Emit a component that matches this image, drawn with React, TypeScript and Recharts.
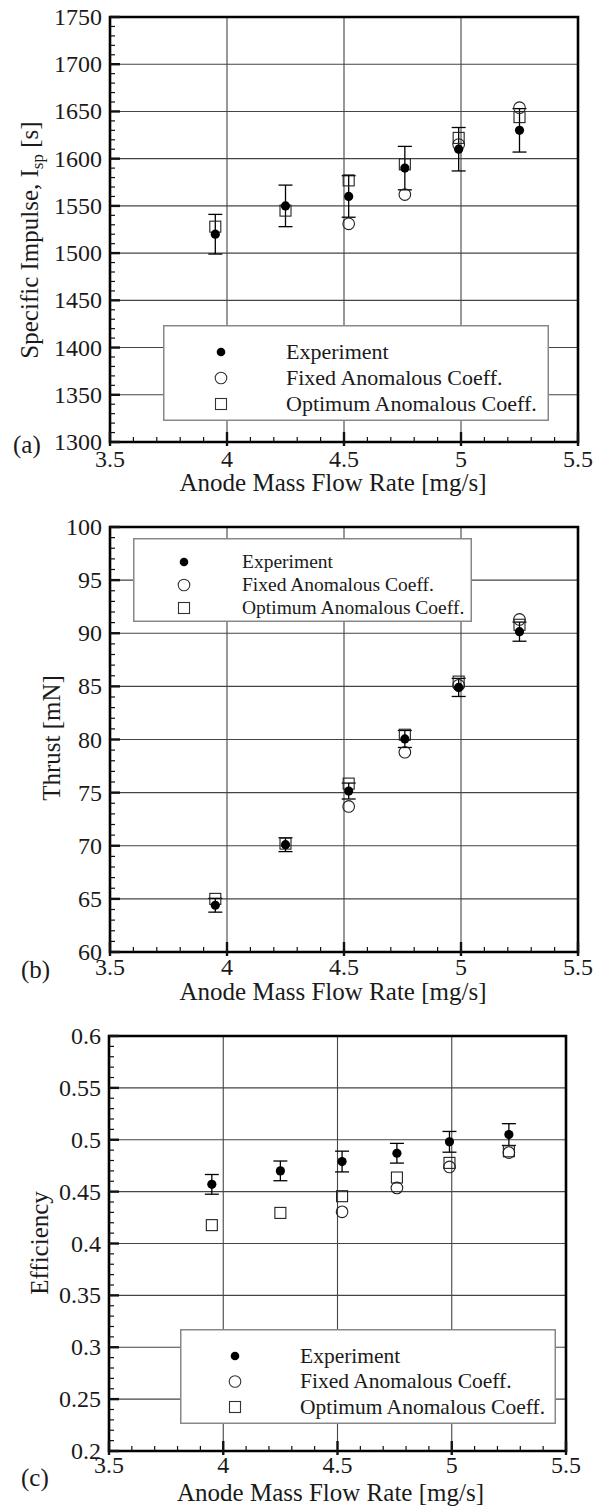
import React from 'react';
import {
  ScatterChart,
  Scatter,
  XAxis,
  YAxis,
  CartesianGrid,
  ErrorBar,
  ReferenceArea,
  Legend,
} from 'recharts';

// ---------------- data ----------------
const xFlow = [3.95, 4.25, 4.52, 4.76, 4.99, 5.25];
const xFlowFixed = [4.52, 4.76, 4.99, 5.25];
const xMajorTicks = [3.5, 4, 4.5, 5, 5.5];
const xGridValues = [4, 4.5, 5];

const ispExperiment = [1520, 1550, 1560, 1590, 1610, 1630];
const ispExperimentErr = [21, 22, 22, 23, 23, 23];
const ispFixed = [1531, 1562, 1615, 1654];
const ispOptimum = [1528, 1545, 1577, 1594, 1622, 1644];
const ispMajorTicks = [1300, 1350, 1400, 1450, 1500, 1550, 1600, 1650, 1700, 1750];

const thrustExperiment = [64.4, 70.1, 75.15, 80.05, 84.9, 90.15];
const thrustExperimentErr = [0.65, 0.65, 0.75, 0.8, 0.85, 0.9];
const thrustFixed = [73.7, 78.8, 85.1, 91.3];
const thrustOptimum = [65.0, 70.2, 75.85, 80.45, 85.45, 90.8];
const thrustMajorTicks = [60, 65, 70, 75, 80, 85, 90, 95, 100];

const effExperiment = [0.457, 0.47, 0.479, 0.487, 0.498, 0.505];
const effExperimentErr = [0.0095, 0.0095, 0.01, 0.0095, 0.01, 0.0105];
const effFixed = [0.4305, 0.4536, 0.4738, 0.4876];
const effOptimum = [0.4177, 0.4295, 0.4456, 0.4636, 0.4777, 0.4889];
const effMajorTicks = [0.2, 0.25, 0.3, 0.35, 0.4, 0.45, 0.5, 0.55, 0.6];

const legendNames = ['Experiment', 'Fixed Anomalous Coeff.', 'Optimum Anomalous Coeff.'];
const xAxisTitle = 'Anode Mass Flow Rate [mg/s]';

// ---------------- helpers ----------------
const FONT = "'Liberation Serif', 'Times New Roman', serif";
const TEXT = '#1a1a1a';

function stepTicks(lo: number, hi: number, step: number): number[] {
  const out: number[] = [];
  const n = Math.round((hi - lo) / step);
  for (let i = 0; i <= n; i++) out.push(+(lo + i * step).toFixed(6));
  return out;
}
const near = (a: number, b: number) => Math.abs(a - b) < 1e-7;

const toPoints = (xs: number[], ys: number[], errs?: number[]) =>
  xs.map((x, i) => ({ x, y: ys[i], err: errs ? errs[i] : 0 }));

const FilledDot = (p: any) => <circle cx={p.cx} cy={p.cy} r={4.6} fill="#000" />;
const OpenCircle = (p: any) => (
  <circle cx={p.cx} cy={p.cy} r={5.8} fill="none" stroke="#222" strokeWidth={1.1} />
);
const OpenSquare = (p: any) => (
  <rect x={p.cx - 5.5} y={p.cy - 5.5} width={11} height={11} fill="none" stroke="#222" strokeWidth={1.1} />
);

const makeXTick = (dy: number) => (props: any) => {
  const { x, y, payload } = props;
  const v = payload.value;
  const major = xMajorTicks.some((m) => near(m, v));
  if (!major) return <line x1={x} y1={y} x2={x} y2={y - 5} stroke="#111" strokeWidth={1.2} />;
  return (
    <g>
      <line x1={x} y1={y + 4} x2={x} y2={y - 10} stroke="#111" strokeWidth={2.4} />
      <text x={x} y={y + dy} textAnchor="middle" fontFamily={FONT} fontSize={24} fill={TEXT}>
        {String(v)}
      </text>
    </g>
  );
};

const makeYTick = (majors: number[]) => (props: any) => {
  const { x, y, payload } = props;
  const v = payload.value;
  const major = majors.some((m) => near(m, v));
  if (!major) return <line x1={x} y1={y} x2={x + 5} y2={y} stroke="#111" strokeWidth={1.2} />;
  return (
    <g>
      <line x1={x} y1={y} x2={x + 10} y2={y} stroke="#111" strokeWidth={2.4} />
      <text x={x - 8} y={y + 8} textAnchor="end" fontFamily={FONT} fontSize={24} fill={TEXT}>
        {String(v)}
      </text>
    </g>
  );
};

type LegendBoxCfg = {
  x: number; y: number; w: number; h: number;
  rows: number[]; markerX: number; textX: number; fontSize: number;
};

const makeLegend = (cfg: LegendBoxCfg) => () => (
  <svg width={cfg.w} height={cfg.h} style={{ display: 'block' }}>
    <rect x={0.75} y={0.75} width={cfg.w - 1.5} height={cfg.h - 1.5} fill="#fff" stroke="#888" strokeWidth={1.5} />
    {legendNames.map((name, i) => {
      const cy = cfg.rows[i];
      const cx = cfg.markerX;
      return (
        <g key={name}>
          {i === 0 && <circle cx={cx} cy={cy} r={4.3} fill="#000" />}
          {i === 1 && <circle cx={cx} cy={cy} r={5.8} fill="none" stroke="#333" strokeWidth={1.1} />}
          {i === 2 && (
            <rect x={cx - 5.5} y={cy - 5.5} width={11} height={11} fill="none" stroke="#333" strokeWidth={1.1} />
          )}
          <text x={cfg.textX} y={cy + cfg.fontSize * 0.32} fontFamily={FONT} fontSize={cfg.fontSize} fill={TEXT}>
            {name}
          </text>
        </g>
      );
    })}
  </svg>
);

type PanelCfg = {
  top: number; height: number; marginTop: number; marginRight: number;
  yAxisWidth: number; xAxisHeight: number;
  yDomain: [number, number]; yMajors: number[]; yMinorStep: number;
  exp: number[]; expErr: number[]; fixed: number[]; opt: number[];
  xTickDy: number; xLabelBaseline: number; xLabelDx: number;
  yLabel: React.ReactNode; yLabelX: number; yLabelY: number;
  tag: string; tagX: number; tagY: number;
  legend: LegendBoxCfg;
};

const Panel = ({ c }: { c: PanelCfg }) => {
  const xTicks = stepTicks(3.5, 5.5, 0.1);
  const yTicks = stepTicks(c.yDomain[0], c.yDomain[1], c.yMinorStep);
  const legendContent = makeLegend(c.legend);
  return (
    <div style={{ position: 'absolute', left: 0, top: c.top, width: 602, height: c.height }}>
      <ScatterChart
        width={602}
        height={c.height}
        margin={{ top: c.marginTop, right: c.marginRight, left: 0, bottom: 0 }}
      >
        <CartesianGrid
          stroke="#444"
          strokeWidth={1.1}
          verticalValues={xGridValues}
          horizontalValues={c.yMajors}
        />
        <XAxis
          type="number"
          dataKey="x"
          domain={[3.5, 5.5]}
          allowDataOverflow
          ticks={xTicks}
          interval={0}
          tickSize={0}
          tickMargin={0}
          tickLine={false}
          axisLine={false}
          height={c.xAxisHeight}
          tick={makeXTick(c.xTickDy)}
          label={(p: any) => {
            const vb = p.viewBox || {};
            return (
              <text
                x={vb.x + vb.width / 2 + c.xLabelDx}
                y={vb.y + c.xLabelBaseline}
                textAnchor="middle"
                fontFamily={FONT}
                fontSize={25}
                fill={TEXT}
              >
                {xAxisTitle}
              </text>
            );
          }}
        />
        <YAxis
          type="number"
          dataKey="y"
          domain={c.yDomain}
          allowDataOverflow
          ticks={yTicks}
          interval={0}
          tickSize={0}
          tickMargin={0}
          tickLine={false}
          axisLine={false}
          width={c.yAxisWidth}
          tick={makeYTick(c.yMajors)}
          label={() => (
            <g>
              <text
                x={c.yLabelX}
                y={c.yLabelY}
                transform={`rotate(-90 ${c.yLabelX} ${c.yLabelY})`}
                textAnchor="middle"
                fontFamily={FONT}
                fontSize={25}
                fill={TEXT}
              >
                {c.yLabel}
              </text>
              <text x={c.tagX} y={c.tagY} fontFamily={FONT} fontSize={25} fill={TEXT}>
                {c.tag}
              </text>
            </g>
          )}
        />
        <ReferenceArea
          x1={3.5}
          x2={5.5}
          y1={c.yDomain[0]}
          y2={c.yDomain[1]}
          fill="none"
          fillOpacity={0}
          stroke="#000"
          strokeWidth={2.6}
          ifOverflow="visible"
        />
        <Scatter name={legendNames[2]} data={toPoints(xFlow, c.opt)} shape={OpenSquare} isAnimationActive={false} />
        <Scatter name={legendNames[1]} data={toPoints(xFlowFixed, c.fixed)} shape={OpenCircle} isAnimationActive={false} />
        <Scatter name={legendNames[0]} data={toPoints(xFlow, c.exp, c.expErr)} shape={FilledDot} isAnimationActive={false}>
          <ErrorBar dataKey="err" direction="y" width={7} stroke="#000" strokeWidth={1.3} isAnimationActive={false} />
        </Scatter>
        <Legend
          layout="horizontal"
          verticalAlign="middle"
          align="center"
          content={legendContent}
          wrapperStyle={{
            position: 'absolute',
            left: c.legend.x,
            top: c.legend.y - c.top,
            width: c.legend.w,
            height: c.legend.h,
          }}
        />
      </ScatterChart>
    </div>
  );
};

const panels: PanelCfg[] = [
  {
    top: 0, height: 500, marginTop: 17, marginRight: 24, yAxisWidth: 110, xAxisHeight: 58,
    yDomain: [1300, 1750], yMajors: ispMajorTicks, yMinorStep: 10,
    exp: ispExperiment, expErr: ispExperimentErr, fixed: ispFixed, opt: ispOptimum,
    xTickDy: 25, xLabelBaseline: 49, xLabelDx: -11,
    yLabel: (
      <>
        Specific Impulse, I
        <tspan dy={5} fontSize={17}>sp</tspan>
        <tspan dy={-5}> [s]</tspan>
      </>
    ),
    yLabelX: 38, yLabelY: 240,
    tag: '(a)', tagX: 13, tagY: 453,
    legend: { x: 163, y: 325, w: 386, h: 96, rows: [27, 53, 79], markerX: 58, textX: 123, fontSize: 22 },
  },
  {
    top: 500, height: 508, marginTop: 27, marginRight: 24, yAxisWidth: 110, xAxisHeight: 56,
    yDomain: [60, 100], yMajors: thrustMajorTicks, yMinorStep: 1,
    exp: thrustExperiment, expErr: thrustExperimentErr, fixed: thrustFixed, opt: thrustOptimum,
    xTickDy: 23, xLabelBaseline: 48, xLabelDx: -11,
    yLabel: 'Thrust [mN]',
    yLabelX: 60, yLabelY: 238,
    tag: '(b)', tagX: 21, tagY: 478,
    legend: { x: 133, y: 538, w: 339, h: 84, rows: [24, 47, 70], markerX: 51, textX: 109, fontSize: 19.5 },
  },
  {
    top: 1008, height: 500, marginTop: 28, marginRight: 36, yAxisWidth: 109, xAxisHeight: 57,
    yDomain: [0.2, 0.6], yMajors: effMajorTicks, yMinorStep: 0.01,
    exp: effExperiment, expErr: effExperimentErr, fixed: effFixed, opt: effOptimum,
    xTickDy: 22, xLabelBaseline: 50, xLabelDx: -7,
    yLabel: 'Efficiency',
    yLabelX: 48, yLabelY: 235,
    tag: '(c)', tagX: 21, tagY: 478,
    legend: { x: 180, y: 1329, w: 376, h: 95, rows: [27, 52.5, 78], markerX: 55, textX: 120, fontSize: 21.5 },
  },
];

export default function App() {
  return (
    <div style={{ position: 'absolute', left: 0, top: 0, width: 602, height: 1508, background: '#fff' }}>
      {panels.map((p) => (
        <Panel key={p.tag} c={p} />
      ))}
    </div>
  );
}
